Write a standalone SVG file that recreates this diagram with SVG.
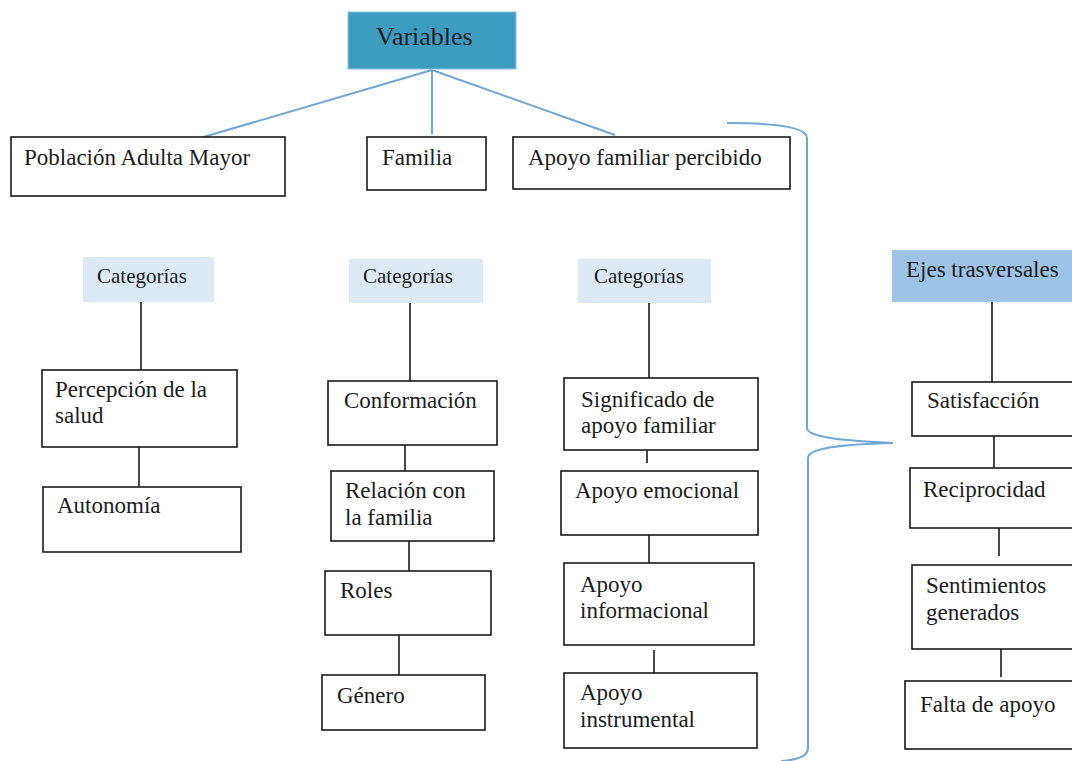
<svg xmlns="http://www.w3.org/2000/svg" width="1072" height="761" viewBox="0 0 1072 761">
  <style>
    text { font-family: "Liberation Serif", "Times New Roman", serif; fill: #1c1c1c; font-size: 23px; }
    .box { fill: #ffffff; stroke: #1a1a1a; stroke-width: 1.6; }
    .cat { fill: #dde9f5; stroke: none; }
    .cat-text { font-size: 21px; }
    .ejes { fill: #9dc3e6; stroke: none; }
    .top { fill: #3d9dc1; stroke: #8cc4dc; stroke-width: 1; }
    .top-text { font-size: 26px; }
    .tree { stroke: #1a1a1a; stroke-width: 1.6; fill: none; }
    .blue { stroke: #6fa6d9; stroke-width: 2; fill: none; }
  </style>

  <!-- connectors -->
  <g id="connectors">
    <line class="blue" x1="432" y1="70" x2="200" y2="138"/>
    <line class="blue" x1="432" y1="70" x2="432" y2="134"/>
    <line class="blue" x1="432" y1="70" x2="615" y2="135"/>
    <!-- brace grouping the three variables toward the transversal axes -->
    <path class="blue" d="M727,123 C770,123 807,126 807,138 L807,428 C807,438 850,441 893,443 C850,444 808,447 808,458 L808,748 C808,756 796,760 781,761"/>
    <line class="tree" x1="141" y1="302" x2="141" y2="370"/>
    <line class="tree" x1="139" y1="447" x2="139" y2="487"/>
    <line class="tree" x1="410" y1="303" x2="410" y2="381"/>
    <line class="tree" x1="405" y1="445" x2="405" y2="471"/>
    <line class="tree" x1="409" y1="541" x2="409" y2="571"/>
    <line class="tree" x1="399" y1="635" x2="399" y2="675"/>
    <line class="tree" x1="649" y1="303" x2="649" y2="378"/>
    <line class="tree" x1="647" y1="450" x2="647" y2="463"/>
    <line class="tree" x1="649" y1="535" x2="649" y2="563"/>
    <line class="tree" x1="654" y1="650" x2="654" y2="673"/>
    <line class="tree" x1="992" y1="302" x2="992" y2="382"/>
    <line class="tree" x1="994" y1="436" x2="994" y2="468"/>
    <line class="tree" x1="999" y1="528" x2="999" y2="556"/>
    <line class="tree" x1="1001" y1="649" x2="1001" y2="677"/>
  </g>

  <g id="variables">
    <rect class="top" x="348" y="12" width="168" height="57"/>
    <text class="top-text" x="376" y="45">Variables</text>
  </g>

  <g id="poblacion">
    <rect class="box" x="11" y="137" width="274" height="59"/>
    <text x="24" y="165">Población Adulta Mayor</text>
  </g>
  <g id="familia">
    <rect class="box" x="367" y="137" width="119" height="53"/>
    <text x="382" y="165">Familia</text>
  </g>
  <g id="apoyo-percibido">
    <rect class="box" x="513" y="137" width="277" height="52"/>
    <text x="528" y="165">Apoyo familiar percibido</text>
  </g>

  <!-- column 1 -->
  <g id="cat-1">
    <rect class="cat" x="83" y="257" width="131" height="45"/>
    <text class="cat-text" x="97" y="283">Categorías</text>
  </g>
  <g id="percepcion">
    <rect class="box" x="42" y="370" width="195" height="77"/>
    <text x="55" y="397">Percepción de la</text>
    <text x="55" y="423">salud</text>
  </g>
  <g id="autonomia">
    <rect class="box" x="43" y="487" width="198" height="65"/>
    <text x="57" y="513">Autonomía</text>
  </g>

  <!-- column 2 -->
  <g id="cat-2">
    <rect class="cat" x="349" y="259" width="134" height="44"/>
    <text class="cat-text" x="363" y="283">Categorías</text>
  </g>
  <g id="conformacion">
    <rect class="box" x="328" y="381" width="169" height="64"/>
    <text x="344" y="408">Conformación</text>
  </g>
  <g id="relacion">
    <rect class="box" x="331" y="471" width="163" height="70"/>
    <text x="345" y="498">Relación con</text>
    <text x="345" y="525">la familia</text>
  </g>
  <g id="roles">
    <rect class="box" x="325" y="571" width="166" height="64"/>
    <text x="340" y="598">Roles</text>
  </g>
  <g id="genero">
    <rect class="box" x="322" y="675" width="163" height="55"/>
    <text x="337" y="703">Género</text>
  </g>

  <!-- column 3 -->
  <g id="cat-3">
    <rect class="cat" x="578" y="259" width="133" height="44"/>
    <text class="cat-text" x="594" y="283">Categorías</text>
  </g>
  <g id="significado">
    <rect class="box" x="564" y="378" width="194" height="72"/>
    <text x="581" y="407">Significado de</text>
    <text x="581" y="433">apoyo familiar</text>
  </g>
  <g id="emocional">
    <rect class="box" x="561" y="471" width="197" height="64"/>
    <text x="575" y="498">Apoyo emocional</text>
  </g>
  <g id="informacional">
    <rect class="box" x="564" y="563" width="190" height="82"/>
    <text x="580" y="592">Apoyo</text>
    <text x="580" y="618">informacional</text>
  </g>
  <g id="instrumental">
    <rect class="box" x="564" y="673" width="193" height="75"/>
    <text x="580" y="700">Apoyo</text>
    <text x="580" y="727">instrumental</text>
  </g>

  <!-- transversal axes -->
  <g id="ejes">
    <rect class="ejes" x="892" y="250" width="190" height="52"/>
    <text x="906" y="277">Ejes trasversales</text>
  </g>
  <g id="satisfaccion">
    <rect class="box" x="912" y="382" width="170" height="54"/>
    <text x="927" y="408">Satisfacción</text>
  </g>
  <g id="reciprocidad">
    <rect class="box" x="910" y="468" width="170" height="60"/>
    <text x="923" y="497">Reciprocidad</text>
  </g>
  <g id="sentimientos">
    <rect class="box" x="912" y="565" width="170" height="84"/>
    <text x="926" y="593">Sentimientos</text>
    <text x="926" y="620">generados</text>
  </g>
  <g id="falta-apoyo">
    <rect class="box" x="905" y="681" width="175" height="68"/>
    <text x="920" y="712">Falta de apoyo</text>
  </g>
</svg>
